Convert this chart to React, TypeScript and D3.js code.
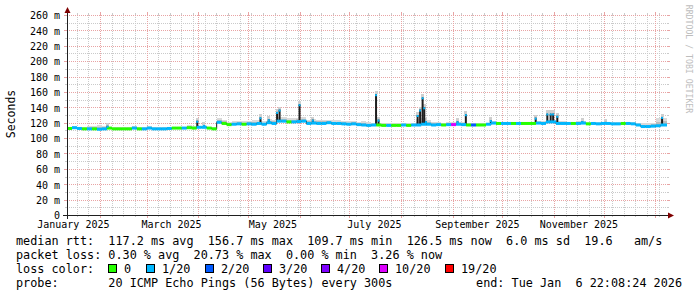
import React from 'react';
import * as d3 from 'd3';

// ---------------- data ----------------
const startTime = new Date(Date.UTC(2025, 0, 12, 4, 0));
const endTime = new Date(Date.UTC(2026, 0, 7, 23, 0));
const sampleStepDays = 3;

const medianMs = [
  112.5, 113.5, 112.5, 112, 112, 112, 111.5, 112, 113, 112,
  112, 112, 112, 113, 112, 112, 113, 112, 112, 112,
  112.5, 113, 113, 113, 113.5, 113, 114, 114, 113, 112,
  120.5, 119, 117.5, 118, 118.5, 118, 118.5, 118, 119, 118,
  120, 119, 122, 122, 121, 121, 121.5, 122, 119, 119.5,
  119, 119, 120, 119, 119, 118.5, 118, 118.5, 117.5, 117,
  116.5, 117, 117, 116.5, 116.5, 116.5, 116.5, 117, 116.5, 117,
  117, 118, 118, 117, 117.5, 117, 117.5, 117.5, 118, 117.5,
  117, 117, 117, 117, 118, 119.5, 119, 119, 119, 119,
  119, 119, 119, 119, 119.5, 119, 121, 121, 119, 119,
  119, 119, 119, 119.5, 118.5, 119, 118.5, 119, 119, 118.5,
  118.5, 119, 119, 118.5, 117, 115, 115, 115.5, 116, 117,
];

const lossLevel = [
  0, 1, 1, 0, 1, 0, 1, 1, 0, 0,
  0, 0, 0, 1, 0, 1, 1, 1, 1, 1,
  1, 0, 0, 1, 0, 0, 1, 1, 0, 0,
  1, 0, 0, 1, 1, 0, 1, 1, 1, 1,
  1, 1, 1, 1, 0, 1, 1, 1, 1, 1,
  1, 1, 1, 1, 1, 1, 1, 1, 1, 1,
  1, 1, 0, 0, 1, 0, 0, 1, 0, 1,
  1, 1, 1, 1, 1, 0, 1, 10, 1, 1,
  0, 2, 0, 0, 1, 1, 0, 1, 1, 0,
  1, 0, 0, 0, 1, 1, 1, 1, 1, 1,
  1, 0, 1, 1, 0, 1, 1, 1, 1, 1,
  1, 0, 1, 1, 1, 1, 1, 1, 1, 1,
];

const smokeHiMs = [
  2, 2, 2, 3, 4, 4, 5, 4, 2, 2,
  2, 2, 2, 3, 2, 2, 3, 2, 2, 2,
  2, 2, 2, 2, 3, 3, 2, 2, 2, 2,
  5, 5, 4, 4, 4, 4, 4, 5, 4, 4,
  5, 5, 6, 6, 5, 5, 5, 6, 5, 5,
  5, 5, 4, 4, 4, 4, 4, 4, 4, 5,
  4, 3, 3, 3, 3, 3, 3, 3, 3, 3,
  8, 8, 5, 4, 3, 3, 3, 3, 3, 3,
  2, 2, 2, 2, 2, 3, 2, 2, 2, 2,
  2, 2, 2, 2, 3, 3, 3, 3, 3, 3,
  2, 2, 3, 3, 2, 2, 2, 2, 2, 2,
  2, 2, 2, 2, 3, 4, 4, 4, 10, 9,
];

const spikeDates = [
  '2025-02-05T12:00Z', '2025-03-31T12:00Z', '2025-04-04T12:00Z', '2025-05-08T12:00Z',
  '2025-05-13T12:00Z', '2025-05-18T12:00Z', '2025-05-20T00:00Z', '2025-06-01T00:00Z',
  '2025-06-09T00:00Z', '2025-07-17T00:00Z', '2025-07-18T12:00Z', '2025-08-11T00:00Z',
  '2025-08-12T12:00Z', '2025-08-14T00:00Z', '2025-08-15T00:00Z', '2025-08-16T00:00Z',
  '2025-09-04T00:00Z', '2025-09-09T00:00Z', '2025-09-24T00:00Z', '2025-10-21T00:00Z',
  '2025-10-28T00:00Z', '2025-10-30T00:00Z', '2025-10-31T12:00Z', '2025-11-03T00:00Z',
  '2025-11-18T00:00Z', '2025-12-02T00:00Z', '2026-01-05T00:00Z',
];
const spikeMs = [
  116, 122.5, 117, 127,
  124.5, 134, 137, 144,
  124, 157, 124, 130,
  137, 153, 140, 122,
  122, 131, 123.5, 126.5,
  132, 132, 132, 129,
  122, 121, 127.5,
];

const yTickValues = [0, 20, 40, 60, 80, 100, 120, 140, 160, 180, 200, 220, 240, 260];
const yMinorValues = [10, 30, 50, 70, 90, 110, 130, 150, 170, 190, 210, 230, 250];

const lossColors: Record<number, string> = {
  0: '#26ff00', 1: '#00b8ff', 2: '#0059ff', 3: '#5e00ff', 4: '#7e00ff', 10: '#dd00ff', 19: '#ff0000',
};
const lossLegendKeys = [0, 1, 2, 3, 4, 10, 19];
const lossLegendLabels = ['0', '1/20', '2/20', '3/20', '4/20', '10/20', '19/20'];

const legendRow1 = 'median rtt:  117.2 ms avg  156.7 ms max  109.7 ms min  126.5 ms now  6.0 ms sd  19.6   am/s';
const legendRow2 = 'packet loss: 0.30 % avg  20.73 % max  0.00 % min  3.26 % now';
const legendRow3 = 'loss color:';
const legendRow4 = 'probe:       20 ICMP Echo Pings (56 Bytes) every 300s';
const endText = 'end: Tue Jan  6 22:08:24 2026';
const yTitle = 'Seconds';
const watermark = 'RRDTOOL / TOBI OETIKER';

// ---------------- layout ----------------
const W = 697;
const H = 297;
const X0 = 67;
const X1 = 667;
const Y0 = 215;
const Y1 = 15;
const MONO = '"DejaVu Sans Mono", monospace';
const LEG_FS = 11.8;
const boxX = [108, 146, 205, 263, 321, 379, 445];
const ROW = [245, 259, 273, 287];

export default function App() {
  const x = d3.scaleUtc().domain([startTime, endTime]).range([X0, X1]);
  const y = d3.scaleLinear().domain([0, 260]).range([Y0, Y1]);

  const sampleDates = medianMs.map((_, i) => d3.utcDay.offset(startTime, i * sampleStepDays));
  const segEnd = (i: number) => (i + 1 < sampleDates.length ? sampleDates[i + 1] : endTime);

  const months = d3.utcMonth.range(startTime, endTime);
  const weeks = d3.utcSaturday
    .range(startTime, endTime)
    .filter((w) => !months.some((m) => Math.abs(+m - +w) < 3600e3));
  const labelMonths = d3.utcMonth
    .every(2)!
    .range(new Date(Date.UTC(2025, 0, 1)), endTime)
    .map((m) => d3.utcDay.offset(m, 15))
    .filter((d) => d <= endTime);
  const fmt = d3.utcFormat('%B %Y');

  const px = (v: number) => Math.round(v) + 0.5;

  const stepPts: [number, number][] = medianMs.map((v, i) => [x(sampleDates[i]), y(v)]);
  stepPts.push([x(endTime), y(medianMs[medianMs.length - 1])]);
  const stepLine = d3.line().curve(d3.curveStepAfter)(stepPts) || '';

  const idxOf = (d: Date) =>
    Math.min(medianMs.length - 1, Math.max(0, Math.floor((+d - +startTime) / (sampleStepDays * 864e5))));

  const pre = { whiteSpace: 'pre' as const };

  return (
    <svg
      width={W}
      height={H}
      style={{ position: 'absolute', left: 0, top: 0, background: '#fff' }}
      fontFamily={MONO}
    >
      <rect x={0} y={0} width={W} height={H} fill="#fff" />

      {/* minor horizontal grid */}
      {yMinorValues.map((v) => (
        <g key={'hm' + v} shapeRendering="crispEdges">
          <line x1={X0} x2={X1} y1={px(y(v))} y2={px(y(v))} stroke="#cacaca" strokeDasharray="1,1" />
          <line x1={X0 - 2} x2={X0} y1={px(y(v))} y2={px(y(v))} stroke="#cacaca" />
          <line x1={X1} x2={X1 + 2} y1={px(y(v))} y2={px(y(v))} stroke="#cacaca" />
        </g>
      ))}
      {/* minor vertical grid */}
      {weeks.map((w) => (
        <g key={'vm' + +w} shapeRendering="crispEdges">
          <line x1={px(x(w))} x2={px(x(w))} y1={Y1} y2={Y0} stroke="#cacaca" strokeDasharray="1,1" />
          <line x1={px(x(w))} x2={px(x(w))} y1={Y0} y2={Y0 + 2} stroke="#cacaca" />
          <line x1={px(x(w))} x2={px(x(w))} y1={Y1 - 2} y2={Y1} stroke="#cacaca" />
        </g>
      ))}
      {/* major horizontal grid */}
      {yTickValues.filter((v) => v > 0).map((v) => (
        <g key={'hM' + v} shapeRendering="crispEdges">
          <line x1={X0} x2={X1} y1={px(y(v))} y2={px(y(v))} stroke="#e8a4a4" strokeDasharray="1,1" />
          <line x1={X0 - 3} x2={X0} y1={px(y(v))} y2={px(y(v))} stroke="#e8a4a4" />
          <line x1={X1} x2={X1 + 3} y1={px(y(v))} y2={px(y(v))} stroke="#e8a4a4" />
        </g>
      ))}
      {/* major vertical grid */}
      {months.map((m) => (
        <g key={'vM' + +m} shapeRendering="crispEdges">
          <line x1={px(x(m))} x2={px(x(m))} y1={Y1} y2={Y0} stroke="#e8a4a4" strokeDasharray="1,1" />
          <line x1={px(x(m))} x2={px(x(m))} y1={Y0} y2={Y0 + 3} stroke="#e8a4a4" />
          <line x1={px(x(m))} x2={px(x(m))} y1={Y1 - 3} y2={Y1} stroke="#e8a4a4" />
        </g>
      ))}

      {/* smoke */}
      <g shapeRendering="crispEdges">
        {medianMs.map((v, i) => (
          <rect
            key={'so' + i}
            x={x(sampleDates[i])}
            width={x(segEnd(i)) - x(sampleDates[i])}
            y={y(v + smokeHiMs[i])}
            height={y(v - 1.5) - y(v + smokeHiMs[i])}
            fill="#dadada"
          />
        ))}
        {medianMs.map((v, i) => (
          <rect
            key={'si' + i}
            x={x(sampleDates[i])}
            width={x(segEnd(i)) - x(sampleDates[i])}
            y={y(v + smokeHiMs[i] * 0.55)}
            height={y(v - 1) - y(v + smokeHiMs[i] * 0.55)}
            fill="#bcbcbc"
          />
        ))}
        {spikeDates.map((s, k) => {
          const d = new Date(s);
          return (
            <rect
              key={'ss' + k}
              x={x(d) - 1.5}
              width={3}
              y={y(spikeMs[k] + 4)}
              height={y(spikeMs[k]) - y(spikeMs[k] + 4)}
              fill="#cfcfcf"
            />
          );
        })}
      </g>

      {/* median connector line */}
      <path d={stepLine} fill="none" stroke="#1e1e1e" strokeWidth={1} />

      {/* spikes */}
      {spikeDates.map((s, k) => {
        const d = new Date(s);
        const base = medianMs[idxOf(d)];
        return (
          <line
            key={'sp' + k}
            x1={x(d)}
            x2={x(d)}
            y1={y(base)}
            y2={y(spikeMs[k])}
            stroke="#1e1e1e"
            strokeWidth={2}
          />
        );
      })}

      {/* median coloured by loss */}
      {medianMs.map((v, i) => (
        <line
          key={'md' + i}
          x1={x(sampleDates[i])}
          x2={x(segEnd(i))}
          y1={y(v)}
          y2={y(v)}
          stroke={lossColors[lossLevel[i]]}
          strokeWidth={3}
        />
      ))}
      {spikeDates.map((s, k) => {
        const d = new Date(s);
        return (
          <line
            key={'tip' + k}
            x1={x(d) - 1}
            x2={x(d) + 1}
            y1={y(spikeMs[k]) + 1}
            y2={y(spikeMs[k]) + 1}
            stroke={lossColors[1]}
            strokeWidth={2}
          />
        );
      })}

      {/* axes */}
      <g shapeRendering="crispEdges">
        <line x1={X0 + 0.5} x2={X0 + 0.5} y1={Y0 + 4} y2={Y1 - 4} stroke="#1f1f1f" />
        <line x1={X0 - 4} x2={X1 + 4} y1={Y0 + 0.5} y2={Y0 + 0.5} stroke="#1f1f1f" />
      </g>
      <path d={`M${X0 + 0.5},${Y1 - 8} L${X0 - 2.5},${Y1 - 2} L${X0 + 3.5},${Y1 - 2} Z`} fill="#7f0000" />
      <path d={`M${X1 + 7},${Y0 + 0.5} L${X1 + 1},${Y0 - 2.5} L${X1 + 1},${Y0 + 3.5} Z`} fill="#7f0000" />

      {/* y tick labels */}
      {yTickValues.map((v) => (
        <text key={'yl' + v} x={60} y={y(v) + 4.3} fontSize={10} textAnchor="end" fill="#000">
          {v === 0 ? '0' : `${v} m`}
        </text>
      ))}
      {/* x tick labels */}
      {labelMonths.map((d) => (
        <text key={'xl' + +d} x={x(d)} y={228} fontSize={10} textAnchor="middle" fill="#000">
          {fmt(d3.utcDay.offset(d, -15))}
        </text>
      ))}

      {/* y title */}
      <text x={15} y={114} fontSize={11.5} textAnchor="middle" transform="rotate(-90 15 114)" fill="#000">
        {yTitle}
      </text>
      {/* watermark */}
      <text
        x={686}
        y={59}
        fontSize={8.2}
        textAnchor="middle"
        transform="rotate(90 686 59)"
        fill="#bdbdbd"
      >
        {watermark}
      </text>

      {/* legend */}
      <g fontSize={LEG_FS} fill="#000">
        <text x={16} y={ROW[0]} xmlSpace="preserve" style={pre}>{legendRow1}</text>
        <text x={16} y={ROW[1]} xmlSpace="preserve" style={pre}>{legendRow2}</text>
        <text x={16} y={ROW[2]} xmlSpace="preserve" style={pre}>{legendRow3}</text>
        {lossLegendKeys.map((k, i) => (
          <g key={'b' + k}>
            <rect
              x={boxX[i] + 0.5}
              y={ROW[2] - 8.5}
              width={8}
              height={8}
              fill={lossColors[k]}
              stroke="#000"
              shapeRendering="crispEdges"
            />
            <text x={boxX[i] + 16} y={ROW[2]}>{lossLegendLabels[i]}</text>
          </g>
        ))}
        <text x={16} y={ROW[3]} xmlSpace="preserve" style={pre}>{legendRow4}</text>
        <text x={682} y={ROW[3]} textAnchor="end" xmlSpace="preserve" style={pre}>{endText}</text>
      </g>
    </svg>
  );
}
